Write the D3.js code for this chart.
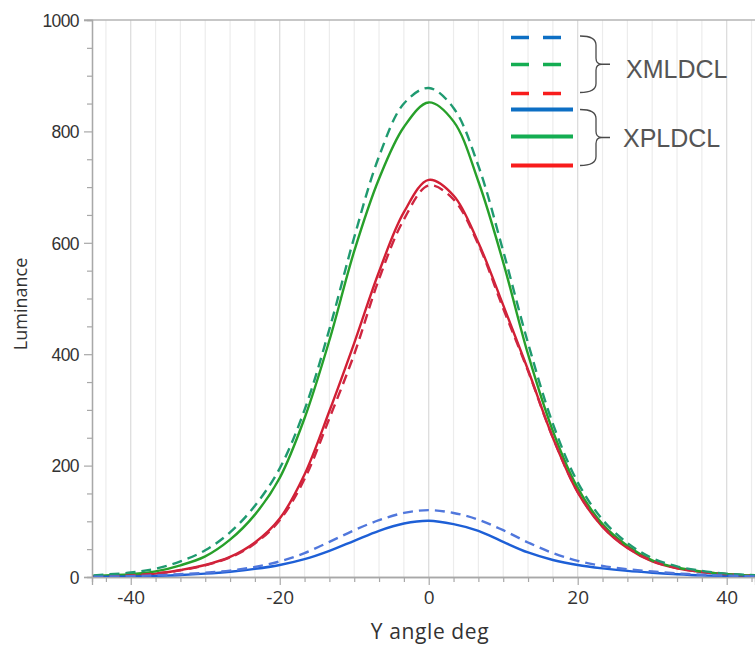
<!DOCTYPE html>
<html>
<head>
<meta charset="utf-8">
<script src="https://cdn.jsdelivr.net/npm/d3@7"></script>
<style>
  body { margin: 0; background: #fff; }
  svg { display: block; }
</style>
</head>
<body>
<div id="chart"></div>
<script>
// Data (Y angle in deg, luminance)
const angles = [-45, -40, -36.67, -33.33, -30, -26.67, -23.33, -20, -16.67, -13.33, -10, -6.67, -3.33, 0,
  3.33, 6.67, 10, 13.33, 16.67, 20, 23.33, 26.67, 30, 33.33, 36.67, 40, 44];

const xmlBlue  = [0.5, 1.5, 3, 5, 7.5, 11.5, 18, 28, 43, 63, 84, 102, 115, 120,
  115, 103, 84, 62, 43, 29, 20, 14, 10, 6.5, 4, 2.5, 1];
const xmlGreen = [3, 8, 15, 28, 48, 80, 128, 195, 300, 445, 610, 755, 850, 878,
  842, 738, 585, 420, 275, 170, 103, 61, 34, 19, 11, 6, 3];
const xmlRed   = [1, 3, 6, 12, 21, 35, 60, 102, 176, 285, 400, 535, 642, 703,
  678, 597, 482, 370, 250, 153, 91, 53, 29, 16, 9, 5, 2];

const xplBlue  = [0.5, 1, 2, 3.5, 6, 9.5, 14.5, 21.5, 32, 47, 65, 83, 96, 101,
  95, 83, 63, 44, 30.5, 21.5, 15.5, 11, 7.7, 5, 3, 2, 1];
const xplGreen = [2, 5, 10, 21, 37, 67, 112, 178, 285, 425, 585, 715, 808, 852,
  818, 710, 565, 400, 262, 160, 95, 56, 30, 17, 9.5, 5, 2];
const xplRed   = [1, 3, 6, 12.5, 21.5, 36, 62, 105, 184, 298, 420, 548, 655, 713,
  685, 600, 488, 372, 250, 152, 90, 52, 28, 15.5, 9, 5, 2];

const xMajorTicks = [-40, -20, 0, 20, 40];
const yMajorTicks = [0, 200, 400, 600, 800, 1000];
const groupNames = ['XMLDCL', 'XPLDCL'];

// Chart dimensions
const W = 755, H = 646;
const margin = { top: 20, left: 92, bottom: 69 };
const plotBottom = H - margin.bottom;

const curveColors = {
  xmlBlue: '#5077dc', xmlGreen: '#1f9a70', xmlRed: '#cf2640',
  xplBlue: '#1d5fd6', xplGreen: '#27a02a', xplRed: '#d21f34'
};
const legendColors = { blue: '#0d6fc4', green: '#14ad52', red: '#f81c1c' };

// Scales
const x = d3.scaleLinear().domain([-45.2, 43.8]).range([margin.left, W]);
const y = d3.scaleLinear().domain([0, 1000]).range([plotBottom, margin.top]);

const svg = d3.select('#chart').append('svg')
  .attr('width', W)
  .attr('height', H);

svg.append('defs').append('clipPath')
  .attr('id', 'clip')
  .append('rect')
  .attr('x', margin.left)
  .attr('y', margin.top - 2)
  .attr('width', W - margin.left)
  .attr('height', plotBottom - margin.top + 2);

// Vertical grid every 20/6 deg
const gridTicks = d3.range(-45, 44, 1).map(i => i * 20 / 6).filter(v => v >= -45.2 && v <= 43.8);
const uniqGrid = Array.from(new Set(gridTicks.map(v => +v.toFixed(3))));

svg.append('g')
  .selectAll('line')
  .data(uniqGrid)
  .join('line')
  .attr('x1', d => x(d)).attr('x2', d => x(d))
  .attr('y1', margin.top).attr('y2', plotBottom)
  .attr('stroke', d => Math.abs(d % 20) < 0.01 ? '#dadada' : '#ececec')
  .attr('stroke-width', 1.2);

// Top border
svg.append('line')
  .attr('x1', margin.left - 8).attr('x2', W)
  .attr('y1', margin.top).attr('y2', margin.top)
  .attr('stroke', '#b4b4b4').attr('stroke-width', 1.3);

// Axes
const xAxis = d3.axisBottom(x).tickValues(xMajorTicks).tickSize(8).tickPadding(6).tickFormat(d => String(d));
const xMinor = d3.axisBottom(x).tickValues(uniqGrid.filter(v => !xMajorTicks.includes(v))).tickSize(5).tickFormat('');
const yAxis = d3.axisLeft(y).tickValues(yMajorTicks).tickSize(8).tickPadding(5).tickFormat(d => String(d));
const yMinor = d3.axisLeft(y).tickValues(d3.range(50, 1000, 50).filter(v => v % 200 !== 0)).tickSize(5).tickFormat('');

const gx = svg.append('g').attr('transform', `translate(0, ${plotBottom})`).call(xAxis);
svg.append('g').attr('transform', `translate(0, ${plotBottom})`).call(xMinor);
const gy = svg.append('g').attr('transform', `translate(${margin.left}, 0)`).call(yAxis);
svg.append('g').attr('transform', `translate(${margin.left}, 0)`).call(yMinor);

svg.selectAll('.domain').attr('stroke', '#a8a8a8').attr('stroke-width', 1.3);
svg.selectAll('.tick line').attr('stroke', '#a8a8a8').attr('stroke-width', 1.2);

gx.selectAll('text')
  .attr('fill', '#333')
  .style('font-family', '"Open Sans", sans-serif')
  .style('font-size', '19px');

gy.selectAll('text')
  .attr('fill', '#333')
  .attr('dy', '0.36em')
  .style('font-family', '"Liberation Sans", Arial, sans-serif')
  .style('font-size', '17.5px')
  .style('letter-spacing', '-0.6px');

// Axis titles
svg.append('text')
  .attr('x', 430)
  .attr('y', 639)
  .attr('text-anchor', 'middle')
  .attr('fill', '#333')
  .style('font-family', '"Open Sans", sans-serif')
  .style('font-size', '21px')
  .style('letter-spacing', '0.6px')
  .text('Y angle deg');

svg.append('text')
  .attr('transform', `translate(27, 304) rotate(-90)`)
  .attr('text-anchor', 'middle')
  .attr('fill', '#333')
  .style('font-family', '"Open Sans", sans-serif')
  .style('font-size', '18px')
  .text('Luminance');

// Curves
const line = d3.line()
  .x((d, i) => x(angles[i]))
  .y(d => y(d))
  .curve(d3.curveCatmullRom.alpha(0.5));

const series = [
  { key: 'xplRed', values: xplRed, dashed: false },
  { key: 'xplGreen', values: xplGreen, dashed: false },
  { key: 'xplBlue', values: xplBlue, dashed: false },
  { key: 'xmlRed', values: xmlRed, dashed: true },
  { key: 'xmlGreen', values: xmlGreen, dashed: true },
  { key: 'xmlBlue', values: xmlBlue, dashed: true }
];

const curves = svg.append('g').attr('clip-path', 'url(#clip)');
curves.selectAll('path')
  .data(series)
  .join('path')
  .attr('d', d => line(d.values))
  .attr('fill', 'none')
  .attr('stroke', d => curveColors[d.key])
  .attr('stroke-width', 2.4)
  .attr('stroke-dasharray', d => d.dashed ? '10,6' : null);

// Legend
const legend = svg.append('g').attr('class', 'legend');
const legendRows = [
  { color: legendColors.blue, dashed: true, y: 37.5 },
  { color: legendColors.green, dashed: true, y: 64.5 },
  { color: legendColors.red, dashed: true, y: 93.5 },
  { color: legendColors.blue, dashed: false, y: 109.5 },
  { color: legendColors.green, dashed: false, y: 136.5 },
  { color: legendColors.red, dashed: false, y: 165.5 }
];

legend.selectAll('line')
  .data(legendRows)
  .join('line')
  .attr('x1', 511)
  .attr('x2', d => d.dashed ? 561 : 573)
  .attr('y1', d => d.y).attr('y2', d => d.y)
  .attr('stroke', d => d.color)
  .attr('stroke-width', d => d.dashed ? 3.4 : 4)
  .attr('stroke-dasharray', d => d.dashed ? '18,14' : null);

function brace(top, bottom) {
  const mid = (top + bottom) / 2;
  const bx = 596;
  return `M580,${top} Q${bx},${top} ${bx},${top + 9} L${bx},${mid - 6} Q${bx},${mid} ${bx + 6},${mid} L${bx + 14},${mid}` +
    ` M${bx + 6},${mid} Q${bx},${mid} ${bx},${mid + 6} L${bx},${bottom - 9} Q${bx},${bottom} 580,${bottom}`;
}

legend.selectAll('path')
  .data([[36, 92.5], [109.5, 165.5]])
  .join('path')
  .attr('d', d => brace(d[0], d[1]))
  .attr('fill', 'none')
  .attr('stroke', '#4a4a4a')
  .attr('stroke-width', 1.3);

legend.selectAll('text')
  .data(groupNames)
  .join('text')
  .attr('x', (d, i) => i === 0 ? 626 : 623)
  .attr('y', (d, i) => i === 0 ? 77.5 : 147)
  .attr('fill', '#555')
  .style('font-family', '"Liberation Sans", Arial, sans-serif')
  .style('font-size', '25px')
  .text(d => d);
</script>
</body>
</html>
